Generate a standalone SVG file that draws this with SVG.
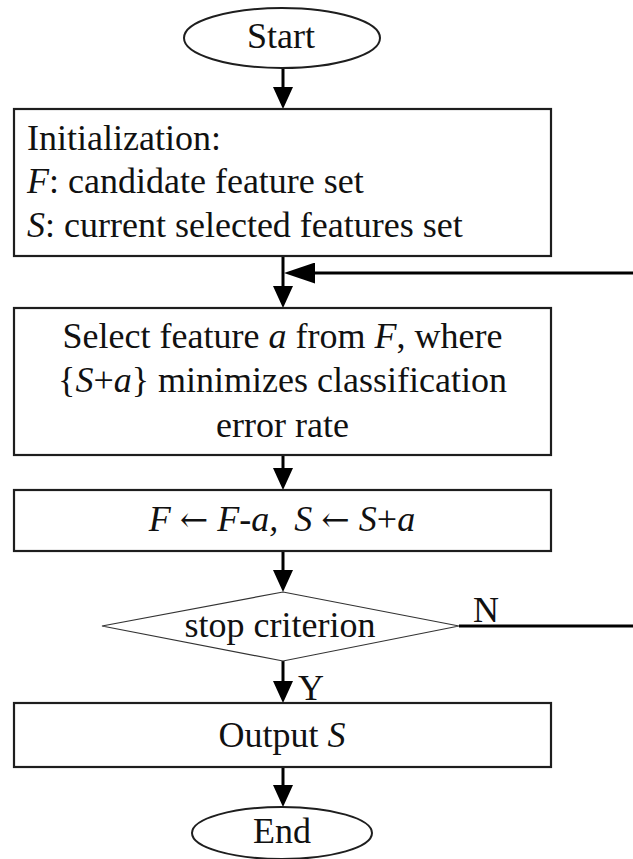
<svg xmlns="http://www.w3.org/2000/svg" width="633" height="859" viewBox="0 0 633 859">
  <style>
    .box { fill: #ffffff; stroke: #1e1e1e; stroke-width: 2.2; }
    .term { fill: #ffffff; stroke: #1e1e1e; stroke-width: 2; }
    .dec { fill: #ffffff; stroke: #333333; stroke-width: 1.2; }
    .lbl { font-family: "Liberation Serif", "DejaVu Serif", serif; font-size: 36px; fill: #111111; }
    .mid { text-anchor: middle; }
    .it { font-style: italic; }
    .arr { font-family: "DejaVu Serif", serif; font-style: normal; font-size: 34px; }
    .wire { fill: none; stroke: #000000; stroke-width: 3; }
  </style>
  <defs>
    <marker id="head" viewBox="0 0 22 20" refX="14" refY="10" markerWidth="22" markerHeight="20" markerUnits="userSpaceOnUse" orient="auto">
      <path d="M0,0 L22,10 L0,20 z" fill="#000000"/>
    </marker>
    <marker id="headLong" viewBox="0 0 31 21" refX="23" refY="10.5" markerWidth="31" markerHeight="21" markerUnits="userSpaceOnUse" orient="auto">
      <path d="M0,0 L31,10.5 L0,21 z" fill="#000000"/>
    </marker>
  </defs>

  <!-- connectors -->
  <g id="connectors">
    <line class="wire" x1="283" y1="68" x2="283" y2="101" marker-end="url(#head)"/>
    <line class="wire" x1="283" y1="256" x2="283" y2="300" marker-end="url(#head)"/>
    <line class="wire" x1="640" y1="273" x2="292" y2="273" marker-end="url(#headLong)"/>
    <line class="wire" x1="283" y1="455" x2="283" y2="482" marker-end="url(#head)"/>
    <line class="wire" x1="283" y1="551" x2="283" y2="584" marker-end="url(#head)"/>
    <line class="wire" x1="459" y1="626" x2="640" y2="626"/>
    <line class="wire" x1="283" y1="661" x2="283" y2="695" marker-end="url(#head)"/>
    <line class="wire" x1="283" y1="767" x2="283" y2="799" marker-end="url(#head)"/>
    <text class="lbl" x="473" y="622">N</text>
    <text class="lbl" x="298" y="700">Y</text>
  </g>

  <!-- start terminal -->
  <g id="start">
    <ellipse class="term" cx="282" cy="38" rx="98" ry="30"/>
    <text class="lbl mid" x="281" y="48">Start</text>
  </g>

  <!-- initialization -->
  <g id="init">
    <rect class="box" x="14" y="109" width="537" height="147"/>
    <text class="lbl" x="27" y="150">Initialization:</text>
    <text class="lbl" x="27" y="193"><tspan class="it">F</tspan>: candidate feature set</text>
    <text class="lbl" x="27" y="237"><tspan class="it">S</tspan>: current selected features set</text>
  </g>

  <!-- feature selection step -->
  <g id="select">
    <rect class="box" x="14" y="308" width="537" height="147"/>
    <text class="lbl mid" x="282.5" y="348">Select feature <tspan class="it">a</tspan> from <tspan class="it">F</tspan>, where</text>
    <text class="lbl mid" x="282.5" y="392">{<tspan class="it">S</tspan>+<tspan class="it">a</tspan>} minimizes classification</text>
    <text class="lbl mid" x="282.5" y="437">error rate</text>
  </g>

  <!-- set update -->
  <g id="update">
    <rect class="box" x="14" y="490" width="537" height="61"/>
    <text class="lbl mid" x="282" y="531"><tspan class="it">F</tspan> <tspan class="arr">←</tspan> <tspan class="it">F-a,</tspan><tspan dx="16" class="it">S</tspan> <tspan class="arr">←</tspan> <tspan class="it">S</tspan>+<tspan class="it">a</tspan></text>
  </g>

  <!-- decision -->
  <g id="stop">
    <polygon class="dec" points="283,592 459,626 283,661 102,626"/>
    <text class="lbl mid" x="280" y="637">stop criterion</text>
  </g>

  <!-- output -->
  <g id="output">
    <rect class="box" x="14" y="703" width="537" height="64"/>
    <text class="lbl mid" x="282" y="747">Output <tspan class="it">S</tspan></text>
  </g>

  <!-- end terminal -->
  <g id="end">
    <ellipse class="term" cx="282" cy="833" rx="90" ry="26"/>
    <text class="lbl mid" x="282" y="843">End</text>
  </g>
</svg>
